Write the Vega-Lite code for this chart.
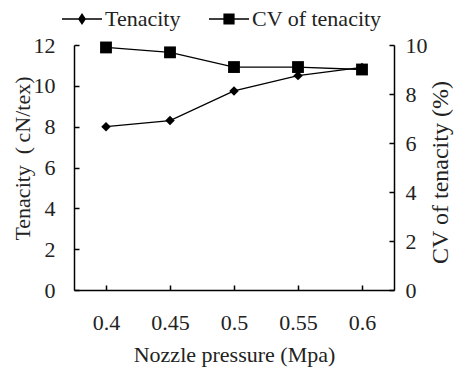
{
  "$schema": "https://vega.github.io/schema/vega-lite/v6.json",
  "width": 320,
  "height": 245,
  "autosize": {"type": "none"},
  "padding": {"left": 74, "top": 45, "right": 60, "bottom": 77},
  "background": "white",
  "config": {
    "view": {"stroke": null},
    "font": "Liberation Serif",
    "axis": {
      "grid": false,
      "domainColor": "black",
      "domainWidth": 1.5,
      "tickColor": "black",
      "tickWidth": 1.5,
      "tickSize": -5,
      "labelColor": "#222",
      "titleColor": "#222",
      "labelFont": "Liberation Serif",
      "titleFont": "Liberation Serif",
      "labelFontSize": 22,
      "titleFontSize": 22,
      "titleFontWeight": "normal"
    },
    "legend": {
      "orient": "none",
      "legendX": -12,
      "legendY": -46,
      "direction": "horizontal",
      "symbolSize": 1600,
      "symbolOpacity": 1,
      "symbolFillColor": "black",
      "symbolStrokeColor": "black",
      "symbolStrokeWidth": 0,
      "labelFont": "Liberation Serif",
      "labelFontSize": 22,
      "labelColor": "#222",
      "labelOffset": 3,
      "columnPadding": 28
    }
  },
  "data": {
    "values": [
      {"pressure": "0.4", "tenacity": 8.0, "cv": 9.9},
      {"pressure": "0.45", "tenacity": 8.3, "cv": 9.7},
      {"pressure": "0.5", "tenacity": 9.75, "cv": 9.1},
      {"pressure": "0.55", "tenacity": 10.5, "cv": 9.1},
      {"pressure": "0.6", "tenacity": 10.9, "cv": 9.0}
    ]
  },
  "encoding": {
    "x": {
      "field": "pressure",
      "type": "ordinal",
      "sort": null,
      "scale": {"type": "point", "padding": 0.5},
      "axis": {
        "title": "Nozzle pressure (Mpa)",
        "labelAngle": 0,
        "labelPadding": 27,
        "titlePadding": 11
      }
    }
  },
  "layer": [
    {
      "encoding": {
        "y": {
          "field": "tenacity",
          "type": "quantitative",
          "scale": {"domain": [0, 12], "nice": false},
          "axis": {
            "title": "Tenacity\u00a0 (\u2009cN/tex)",
            "values": [0, 2, 4, 6, 8, 10, 12],
            "labelPadding": 24,
            "titleX": -52,
            "titleY": 113,
            "titleBaseline": "middle"
          }
        }
      },
      "layer": [
        {"mark": {"type": "line", "color": "black", "strokeWidth": 1.3}},
        {"mark": {"type": "point", "shape": "diamond", "filled": true, "color": "black", "size": 90, "opacity": 1}},
        {
          "mark": {"type": "point", "filled": true, "color": "black", "opacity": 0},
          "encoding": {
            "shape": {
              "datum": "Tenacity",
              "type": "nominal",
              "scale": {
                "domain": ["Tenacity", "CV of tenacity"],
                "range": [
                  "M-1,-0.035L1,-0.035L1,0.035L-1,0.035ZM0,-0.3L0.2,0L0,0.3L-0.2,0Z",
                  "M-1,-0.035L1,-0.035L1,0.035L-1,0.035ZM-0.28,-0.28L0.28,-0.28L0.28,0.28L-0.28,0.28Z"
                ]
              },
              "legend": {"title": null}
            }
          }
        }
      ]
    },
    {
      "encoding": {
        "y": {
          "field": "cv",
          "type": "quantitative",
          "scale": {"domain": [0, 10], "nice": false},
          "axis": {
            "orient": "right",
            "title": "CV of tenacity (%)",
            "titleAngle": 270,
            "titleFontSize": 24,
            "values": [0, 2, 4, 6, 8, 10],
            "labelPadding": 16,
            "titleX": 46,
            "titleY": 127,
            "titleBaseline": "middle"
          }
        }
      },
      "layer": [
        {"mark": {"type": "line", "color": "black", "strokeWidth": 1.3}},
        {"mark": {"type": "point", "shape": "square", "filled": true, "color": "black", "size": 140, "opacity": 1}},
        {
          "mark": {"type": "point", "filled": true, "color": "black", "opacity": 0},
          "encoding": {
            "shape": {"datum": "CV of tenacity", "type": "nominal", "legend": {"title": null}}
          }
        }
      ]
    }
  ],
  "resolve": {"scale": {"y": "independent"}}
}
